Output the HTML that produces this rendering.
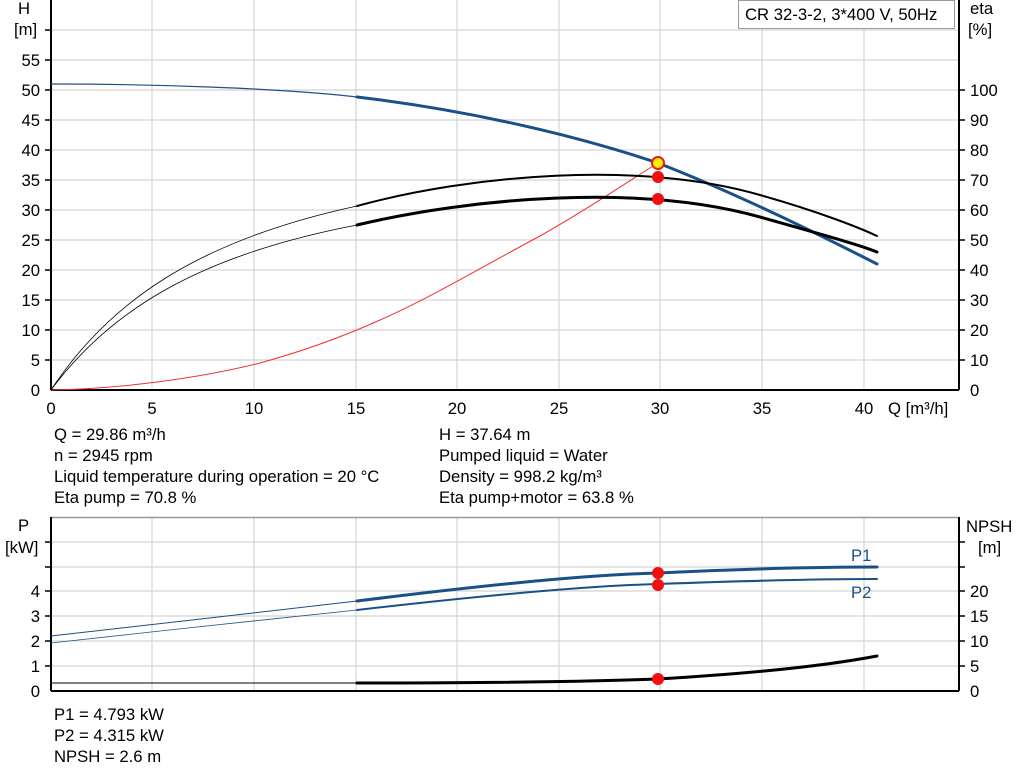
<!DOCTYPE html>
<html><head><style>
body{margin:0;background:#fff;}
svg{display:block;font-family:"Liberation Sans",sans-serif;}
</style></head><body>
<svg width="1024" height="781" viewBox="0 0 1024 781">
<g stroke="#d4d4d4" stroke-width="1.2">
<line x1="51" y1="30" x2="959" y2="30"/><line x1="51" y1="60" x2="959" y2="60"/><line x1="51" y1="90" x2="959" y2="90"/><line x1="51" y1="120" x2="959" y2="120"/><line x1="51" y1="150" x2="959" y2="150"/><line x1="51" y1="180" x2="959" y2="180"/><line x1="51" y1="210" x2="959" y2="210"/><line x1="51" y1="240" x2="959" y2="240"/><line x1="51" y1="270" x2="959" y2="270"/><line x1="51" y1="300" x2="959" y2="300"/><line x1="51" y1="330" x2="959" y2="330"/><line x1="51" y1="360" x2="959" y2="360"/>
<line x1="152" y1="0" x2="152" y2="390"/><line x1="254" y1="0" x2="254" y2="390"/><line x1="356" y1="0" x2="356" y2="390"/><line x1="457" y1="0" x2="457" y2="390"/><line x1="559" y1="0" x2="559" y2="390"/><line x1="660" y1="0" x2="660" y2="390"/><line x1="762" y1="0" x2="762" y2="390"/><line x1="864" y1="0" x2="864" y2="390"/>
<line x1="51" y1="542" x2="959" y2="542"/><line x1="51" y1="567" x2="959" y2="567"/><line x1="51" y1="591" x2="959" y2="591"/><line x1="51" y1="616" x2="959" y2="616"/><line x1="51" y1="641" x2="959" y2="641"/><line x1="51" y1="666" x2="959" y2="666"/>
<line x1="152" y1="517" x2="152" y2="691"/><line x1="254" y1="517" x2="254" y2="691"/><line x1="356" y1="517" x2="356" y2="691"/><line x1="457" y1="517" x2="457" y2="691"/><line x1="559" y1="517" x2="559" y2="691"/><line x1="660" y1="517" x2="660" y2="691"/><line x1="762" y1="517" x2="762" y2="691"/><line x1="864" y1="517" x2="864" y2="691"/>
</g>
<line x1="51" y1="517.5" x2="959" y2="517.5" stroke="#999" stroke-width="1.5"/>
<g stroke="#000" stroke-width="2" fill="none">
<line x1="51" y1="0" x2="51" y2="390"/><line x1="51" y1="390" x2="959" y2="390"/><line x1="959" y1="0" x2="959" y2="390"/>
<line x1="51" y1="517" x2="51" y2="691"/><line x1="51" y1="691" x2="959" y2="691"/><line x1="959" y1="517" x2="959" y2="691"/>
</g>
<g stroke="#000" stroke-width="1.5">
<line x1="45" y1="30" x2="51" y2="30"/><line x1="45" y1="60" x2="51" y2="60"/><line x1="45" y1="90" x2="51" y2="90"/><line x1="45" y1="120" x2="51" y2="120"/><line x1="45" y1="150" x2="51" y2="150"/><line x1="45" y1="180" x2="51" y2="180"/><line x1="45" y1="210" x2="51" y2="210"/><line x1="45" y1="240" x2="51" y2="240"/><line x1="45" y1="270" x2="51" y2="270"/><line x1="45" y1="300" x2="51" y2="300"/><line x1="45" y1="330" x2="51" y2="330"/><line x1="45" y1="360" x2="51" y2="360"/>
<line x1="959" y1="90" x2="965" y2="90"/><line x1="959" y1="120" x2="965" y2="120"/><line x1="959" y1="150" x2="965" y2="150"/><line x1="959" y1="180" x2="965" y2="180"/><line x1="959" y1="210" x2="965" y2="210"/><line x1="959" y1="240" x2="965" y2="240"/><line x1="959" y1="270" x2="965" y2="270"/><line x1="959" y1="300" x2="965" y2="300"/><line x1="959" y1="330" x2="965" y2="330"/><line x1="959" y1="360" x2="965" y2="360"/>
<line x1="45" y1="542" x2="51" y2="542"/><line x1="45" y1="567" x2="51" y2="567"/><line x1="45" y1="591" x2="51" y2="591"/><line x1="45" y1="616" x2="51" y2="616"/><line x1="45" y1="641" x2="51" y2="641"/><line x1="45" y1="666" x2="51" y2="666"/>
<line x1="959" y1="542" x2="965" y2="542"/><line x1="959" y1="567" x2="965" y2="567"/><line x1="959" y1="591" x2="965" y2="591"/><line x1="959" y1="616" x2="965" y2="616"/><line x1="959" y1="641" x2="965" y2="641"/><line x1="959" y1="666" x2="965" y2="666"/>
</g>
<g font-size="16.7" fill="#000">
<g text-anchor="end">
<text x="40" y="66">55</text><text x="40" y="96">50</text><text x="40" y="126">45</text><text x="40" y="156">40</text><text x="40" y="186">35</text><text x="40" y="216">30</text><text x="40" y="246">25</text><text x="40" y="276">20</text><text x="40" y="306">15</text><text x="40" y="336">10</text><text x="40" y="366">5</text><text x="40" y="396">0</text>
<text x="40" y="597">4</text><text x="40" y="622">3</text><text x="40" y="647">2</text><text x="40" y="672">1</text><text x="40" y="697">0</text>
</g>
<text x="18" y="14">H</text><text x="14" y="35">[m]</text>
<text x="970" y="14">eta</text><text x="968" y="35">[%]</text>
<text x="18" y="531">P</text><text x="5" y="553">[kW]</text>
<text x="966" y="532">NPSH</text><text x="978" y="553">[m]</text>
<text x="970" y="96">100</text><text x="970" y="126">90</text><text x="970" y="156">80</text><text x="970" y="186">70</text><text x="970" y="216">60</text><text x="970" y="246">50</text><text x="970" y="276">40</text><text x="970" y="306">30</text><text x="970" y="336">20</text><text x="970" y="366">10</text><text x="970" y="396">0</text>
<text x="970" y="597">20</text><text x="970" y="622">15</text><text x="970" y="647">10</text><text x="970" y="672">5</text><text x="970" y="697">0</text>
<g text-anchor="middle">
<text x="51" y="414">0</text><text x="152" y="414">5</text><text x="254" y="414">10</text><text x="356" y="414">15</text><text x="457" y="414">20</text><text x="559" y="414">25</text><text x="660" y="414">30</text><text x="762" y="414">35</text><text x="864" y="414">40</text>
</g>
<text x="888" y="414">Q [m³/h]</text>
<text x="54" y="440">Q = 29.86 m³/h</text><text x="54" y="461">n = 2945 rpm</text><text x="54" y="482">Liquid temperature during operation = 20 °C</text><text x="54" y="503">Eta pump = 70.8 %</text>
<text x="439" y="440">H = 37.64 m</text><text x="439" y="461">Pumped liquid = Water</text><text x="439" y="482">Density = 998.2 kg/m³</text><text x="439" y="503">Eta pump+motor = 63.8 %</text>
<text x="54" y="720">P1 = 4.793 kW</text><text x="54" y="741">P2 = 4.315 kW</text><text x="54" y="762">NPSH = 2.6 m</text>
<text x="851" y="561" fill="#1a5088">P1</text><text x="851" y="598" fill="#1a5088">P2</text>
</g>
<rect x="738.5" y="0.5" width="216" height="28" fill="#fff" stroke="#999"/>
<text x="745" y="20" font-size="16.7">CR 32-3-2, 3*400 V, 50Hz</text>
<g fill="none" stroke-linecap="round">
<path d="M51,390 C120,389 200,378 260,363 C300,352 340,338 380,320 C430,298 480,268 540,236 C590,208 630,180 658,163" stroke="#f03030" stroke-width="1"/>
<path d="M51,84 C150,84 280,88 357,97" stroke="#1a5088" stroke-width="1.2"/>
<path d="M357,97 C450,108 560,130 658,163 C740,195 820,235 877,264" stroke="#1a5088" stroke-width="3"/>
<path d="M51,390 C110,300 200,240 357,206" stroke="#000" stroke-width="0.8"/>
<path d="M357,206 C470,175 640,160 760,195 C820,212 860,228 877,236" stroke="#000" stroke-width="2"/>
<path d="M51,390 C110,310 200,255 357,225" stroke="#000" stroke-width="0.8"/>
<path d="M357,225 C470,198 640,183 760,217 C820,234 860,245 877,252" stroke="#000" stroke-width="3"/>
<path d="M51,636 C150,625 260,612 357,601" stroke="#1a5088" stroke-width="1"/>
<path d="M357,601 C470,587 580,575 658,573 C740,569 820,567 877,567" stroke="#1a5088" stroke-width="3"/>
<path d="M51,643 C150,632 260,620 357,610" stroke="#1a5088" stroke-width="0.8"/>
<path d="M357,610 C470,597 580,586 658,584 C740,581 820,579 877,579" stroke="#1a5088" stroke-width="2"/>
<path d="M51,683 L357,683" stroke="#000" stroke-width="1"/>
<path d="M357,683 C480,683 580,682 658,679 C760,673 830,665 877,656" stroke="#000" stroke-width="3"/>
</g>
<g fill="#f01010">
<circle cx="658" cy="177" r="6"/><circle cx="658" cy="199" r="6"/>
<circle cx="658" cy="573" r="6"/><circle cx="658" cy="585" r="6"/><circle cx="658" cy="679" r="6"/>
</g>
<circle cx="658" cy="163" r="6" fill="#ffee00" stroke="#e02020" stroke-width="2"/>
</svg>
</body></html>
